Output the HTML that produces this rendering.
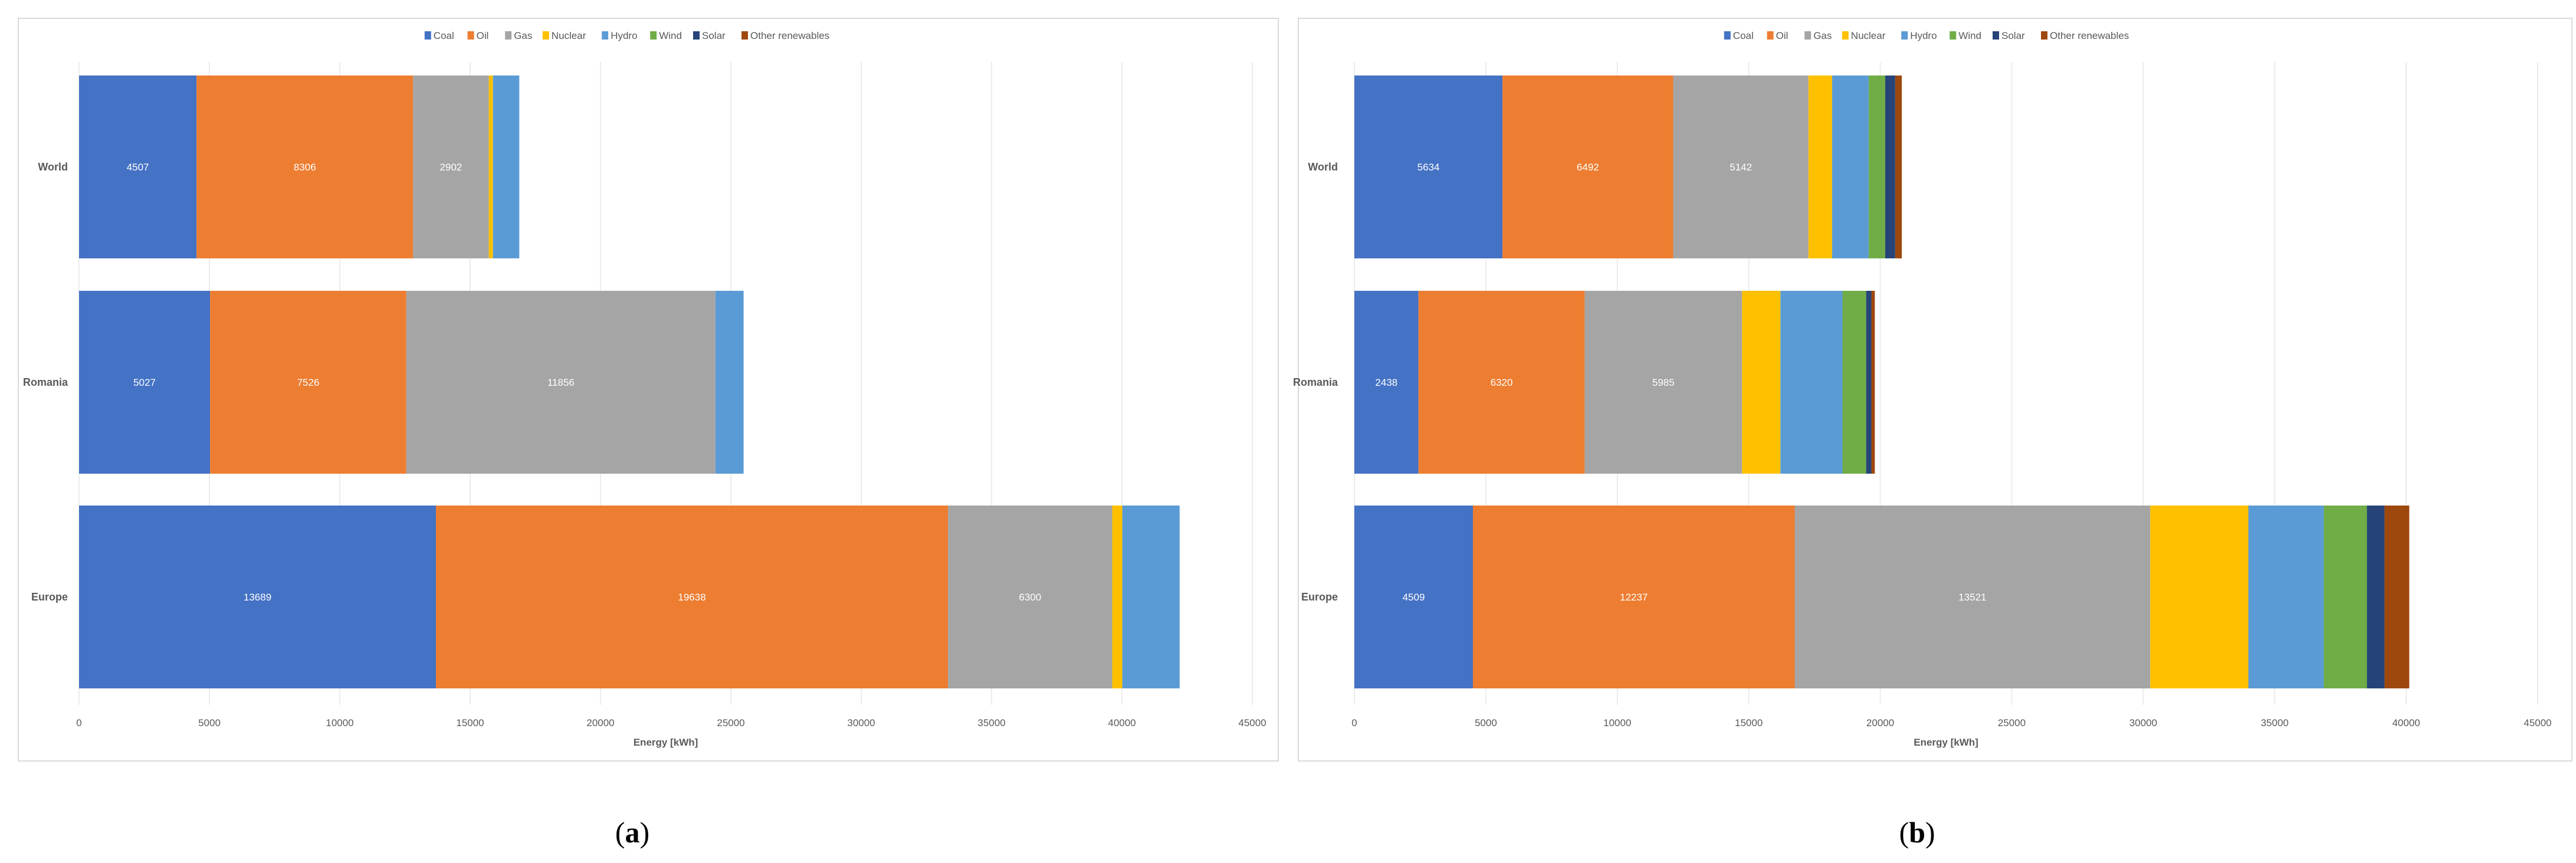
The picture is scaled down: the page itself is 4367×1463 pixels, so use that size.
<!DOCTYPE html>
<html><head><meta charset="utf-8">
<style>
html,body{margin:0;padding:0;background:#fff;}
body{width:4367px;height:1463px;overflow:hidden;position:relative;font-family:"Liberation Sans",sans-serif;}
svg{position:absolute;left:0;top:0;}
</style></head>
<body>
<svg id="fig" width="4367" height="1463" xmlns="http://www.w3.org/2000/svg"></svg>
<script>
const seriesNames = ["Coal","Oil","Gas","Nuclear","Hydro","Wind","Solar","Other renewables"];
const seriesColors = ["#4472c4","#ed7d31","#a5a5a5","#ffc000","#5b9bd5","#70ad47","#264478","#9e480e"];
const categories = ["World","Romania","Europe"];
const xTicks = [0,5000,10000,15000,20000,25000,30000,35000,40000,45000];
// panel (a)
const aCoal = [4507,5027,13689];
const aOil = [8306,7526,19638];
const aGas = [2902,11856,6300];
const aNuclear = [160,0,385];
const aHydro = [1010,1080,2200];
const aWind = [0,0,0];
const aSolar = [0,0,0];
const aOther = [0,0,0];
// panel (b)
const bCoal = [5634,2438,4509];
const bOil = [6492,6320,12237];
const bGas = [5142,5985,13521];
const bNuclear = [900,1460,3730];
const bHydro = [1390,2360,2870];
const bWind = [630,900,1640];
const bSolar = [380,200,670];
const bOther = [250,130,940];
const labeledSeries = [0,1,2];

const NS="http://www.w3.org/2000/svg";
const svg=document.getElementById('fig');
function mk(tag,attrs,parent){const e=document.createElementNS(NS,tag);for(const k in attrs)e.setAttribute(k,attrs[k]);(parent||svg).appendChild(e);return e;}

function panel(id,frame,x0,x1,catX,legendCx,capX,capText,data){
  const g=mk('g',{});
  
  
  const fr=mk('rect',{x:frame[0],y:frame[1],width:frame[2]-frame[0],height:frame[3]-frame[1],fill:'#fff',stroke:'#d9d9d9','stroke-width':2},g);
  
  
  const xScale=v=>x0+(v-xTicks[0])/(xTicks[xTicks.length-1]-xTicks[0])*(x1-x0);
  const barTop=[128,493,857], barH=310;
  const yBand=i=>barTop[i];
  // grid
  xTicks.forEach(t=>{
    const l=mk('line',{x1:xScale(t),x2:xScale(t),y1:105,y2:1195,stroke:'#ececec','stroke-width':2},g);
    
    
    const tx=mk('text',{x:xScale(t),y:1231,'text-anchor':'middle','font-size':17,fill:'#595959'},g);
    tx.textContent=t;
    
    
  });
  const at=mk('text',{x:(x0+x1)/2,y:1264,'text-anchor':'middle','font-size':17,'font-weight':'bold',fill:'#595959'},g);
  at.textContent='Energy [kWh]';
  
  
  // bars
  categories.forEach((c,i)=>{
    const cl=mk('text',{x:catX,y:yBand(i)+barH/2+6,'text-anchor':'end','font-size':18,'font-weight':'bold',fill:'#595959'},g);
    cl.textContent=c;
    
    
    let acc=0;
    data.forEach((arr,s)=>{
      const v=arr[i];
      if(v<=0)return;
      const xa=xScale(acc),xb=xScale(acc+v);
      const r=mk('rect',{x:xa,y:yBand(i),width:xb-xa,height:barH,fill:seriesColors[s]},g);
      
      
      if(labeledSeries.includes(s)){
        const t=mk('text',{x:(xa+xb)/2,y:yBand(i)+barH/2+6,'text-anchor':'middle','font-size':17,fill:'#fff'},g);
        t.textContent=v;
        
        
      }
      acc+=v;
    });
  });
  // legend
  const widths=seriesNames.map(n=>22+n.length*9.2+14);
  const tot=widths.reduce((a,b)=>a+b,0);
  let lx=legendCx-tot/2;
  seriesNames.forEach((n,s)=>{
    const sw=mk('rect',{x:lx,y:53,width:11,height:14,fill:seriesColors[s]},g);
    
    
    const t=mk('text',{x:lx+15,y:66,'font-size':17,fill:'#595959'},g);
    t.textContent=n;
    
    
    lx+=widths[s];
  });
  const cap=mk('text',{x:capX,y:1428,'text-anchor':'middle','font-size':50,fill:'#000','font-family':'Liberation Serif, serif'},g);
  cap.innerHTML='(<tspan font-weight="bold">'+capText+'</tspan>)';
  
  
}
panel('a',[31,31,2167,1290],134,2123,115,1080,1072,'a',[aCoal,aOil,aGas,aNuclear,aHydro,aWind,aSolar,aOther]);
panel('b',[2201,31,4360,1290],2296,4302,2268,3283,3250,'b',[bCoal,bOil,bGas,bNuclear,bHydro,bWind,bSolar,bOther]);
</script>
</body></html>
